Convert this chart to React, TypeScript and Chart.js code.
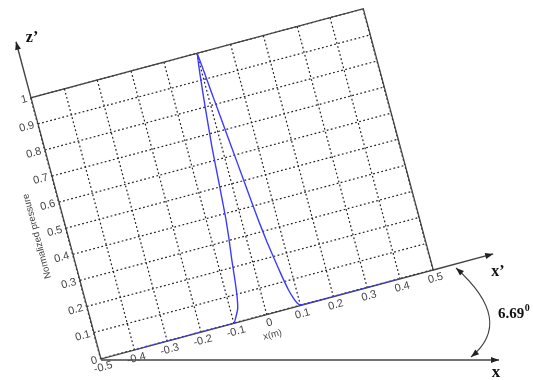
import React, { useEffect, useRef } from "react";
import { Chart, registerables } from "chart.js";

Chart.register(...registerables);

// ---- data ----
const xPositions = [
  -0.4, -0.3, -0.2, -0.1, -0.09, -0.078, -0.07, -0.064, -0.058, -0.05, -0.044, -0.036, -0.029, -0.018, -0.008,
  0, 0.012, 0.024, 0.036, 0.046, 0.054, 0.062, 0.07, 0.078, 0.086, 0.093, 0.1, 0.2, 0.3, 0.4,
];
const normalizedPressure = [
  0, 0, 0, 0, 0.02, 0.05, 0.1, 0.16, 0.23, 0.31, 0.38, 0.52, 0.65, 0.8, 0.92,
  1, 0.83, 0.66, 0.49, 0.35, 0.26, 0.19, 0.125, 0.07, 0.033, 0.012, 0.002, 0, 0, 0,
];
const xTickValues = [-0.5, -0.4, -0.3, -0.2, -0.1, 0, 0.1, 0.2, 0.3, 0.4, 0.5];
const xTickLabels = ["-0.5", "-0.4", "-0.3", "-0.2", "-0.1", "0", "0.1", "0.2", "0.3", "0.4", "0.5"];
const yTickValues = [0, 0.1, 0.2, 0.3, 0.4, 0.5, 0.6, 0.7, 0.8, 0.9, 1];
const yTickLabels = ["0", "0.1", "0.2", "0.3", "0.4", "0.5", "0.6", "0.7", "0.8", "0.9", "1"];
const xAxisTitle = "x(m)";
const yAxisTitle = "Normalized pressure";
const angleLabel = "6.69";
const angleSup = "0";

// ---- layout constants ----
const TILT_DEG = 15;
const ORIGIN = { x: 101, y: 359 };
const ANG = (TILT_DEG * Math.PI) / 180;

function toPage(chart: any, px: number, py: number) {
  const a = chart.chartArea;
  const dx = px - a.left;
  const dy = py - a.bottom;
  return {
    x: ORIGIN.x + dx * Math.cos(ANG) + dy * Math.sin(ANG),
    y: ORIGIN.y - dx * Math.sin(ANG) + dy * Math.cos(ANG),
  };
}

function arrowHead(ctx: CanvasRenderingContext2D, tip: { x: number; y: number }, dirX: number, dirY: number, len = 8, half = 3) {
  const l = Math.hypot(dirX, dirY);
  const ux = dirX / l;
  const uy = dirY / l;
  ctx.beginPath();
  ctx.moveTo(tip.x, tip.y);
  ctx.lineTo(tip.x - ux * len - uy * half, tip.y - uy * len + ux * half);
  ctx.lineTo(tip.x - ux * len + uy * half, tip.y - uy * len - ux * half);
  ctx.closePath();
  ctx.fill();
}

const tiltPlugin = {
  id: "tilt",
  beforeDraw(chart: any) {
    const ctx = chart.ctx;
    const a = chart.chartArea;
    ctx.save();
    ctx.translate(ORIGIN.x, ORIGIN.y);
    ctx.rotate(-ANG);
    ctx.translate(-a.left, -a.bottom);
  },
  beforeDatasetsDraw(chart: any) {
    const ctx = chart.ctx;
    const { left, top, right, bottom } = chart.chartArea;
    ctx.save();
    ctx.setLineDash([]);
    ctx.strokeStyle = "#444";
    ctx.lineWidth = 1.3;
    ctx.strokeRect(left, top, right - left, bottom - top);
    ctx.restore();
  },
  afterDraw(chart: any) {
    const ctx = chart.ctx;
    ctx.restore();
    const xs = chart.scales.x;
    const ys = chart.scales.y;
    const o = toPage(chart, xs.getPixelForValue(-0.5), ys.getPixelForValue(0));
    const xe = toPage(chart, xs.getPixelForValue(0.5), ys.getPixelForValue(0));
    const yt = toPage(chart, xs.getPixelForValue(-0.5), ys.getPixelForValue(1));
    const ux = { x: xe.x - o.x, y: xe.y - o.y };
    const ul = Math.hypot(ux.x, ux.y);
    ux.x /= ul; ux.y /= ul;
    const uy = { x: yt.x - o.x, y: yt.y - o.y };
    const yl = Math.hypot(uy.x, uy.y);
    uy.x /= yl; uy.y /= yl;

    ctx.save();
    ctx.strokeStyle = "#444";
    ctx.fillStyle = "#222";
    ctx.lineWidth = 1.4;
    ctx.setLineDash([]);

    // x' extension
    const xTip = { x: xe.x + ux.x * 62, y: xe.y + ux.y * 62 };
    ctx.beginPath();
    ctx.moveTo(xe.x, xe.y);
    ctx.lineTo(xTip.x, xTip.y);
    ctx.stroke();
    arrowHead(ctx, xTip, ux.x, ux.y);

    // z' extension
    const zTip = { x: yt.x + uy.x * 58, y: yt.y + uy.y * 58 };
    ctx.beginPath();
    ctx.moveTo(yt.x, yt.y);
    ctx.lineTo(zTip.x, zTip.y);
    ctx.stroke();
    arrowHead(ctx, zTip, uy.x, uy.y);

    // horizontal x axis
    const hTip = { x: o.x + 398, y: o.y + 1 };
    ctx.beginPath();
    ctx.moveTo(o.x, o.y + 1);
    ctx.lineTo(hTip.x, hTip.y);
    ctx.stroke();
    arrowHead(ctx, hTip, 1, 0);

    // angle arc
    const p0 = { x: o.x + 355, y: o.y - 91 };
    const p2 = { x: o.x + 370, y: o.y - 2 };
    const c = { x: o.x + 414, y: o.y - 38 };
    ctx.lineWidth = 1.1;
    ctx.beginPath();
    ctx.moveTo(p0.x, p0.y);
    ctx.quadraticCurveTo(c.x, c.y, p2.x, p2.y);
    ctx.stroke();
    arrowHead(ctx, p0, p0.x - c.x, p0.y - c.y, 8, 3);
    arrowHead(ctx, p2, p2.x - c.x, p2.y - c.y, 8, 3);

    // labels
    ctx.fillStyle = "#111";
    ctx.font = "bold 17px 'Liberation Serif', serif";
    ctx.textAlign = "center";
    ctx.textBaseline = "middle";
    ctx.fillText("x", o.x + 395, o.y + 14);
    ctx.font = "bold 16px 'Liberation Serif', serif";
    ctx.fillText("x\u2019", o.x + 397, o.y - 87);
    ctx.fillText("z\u2019", o.x - 69, o.y - 321);
    ctx.textAlign = "left";
    ctx.textBaseline = "alphabetic";
    ctx.font = "bold 15px 'Liberation Serif', serif";
    ctx.fillText(angleLabel, o.x + 397, o.y - 41);
    const w = ctx.measureText(angleLabel).width;
    ctx.font = "bold 10px 'Liberation Serif', serif";
    ctx.fillText(angleSup, o.x + 397 + w + 0.5, o.y - 48);
    ctx.restore();
  },
};

export default function App() {
  const ref = useRef<HTMLCanvasElement | null>(null);
  useEffect(() => {
    if (!ref.current) return;
    const tickFont = { family: "'Liberation Sans', Arial, sans-serif", size: 11 };
    const titleFont = { family: "'Liberation Sans', Arial, sans-serif", size: 9.5 };
    const chart = new Chart(ref.current, {
      type: "scatter",
      data: {
        datasets: [
          {
            data: xPositions.map((x, i) => ({ x, y: normalizedPressure[i] })),
            showLine: true,
            borderColor: "rgb(60,60,255)",
            borderWidth: 1.4,
            pointRadius: 0,
            tension: 0.1,
            fill: false,
          },
        ],
      },
      options: {
        animation: false,
        responsive: false,
        events: [],
        layout: { padding: { left: 10, right: 139, top: 10, bottom: 69 } },
        plugins: { legend: { display: false }, tooltip: { enabled: false } },
        scales: {
          x: {
            type: "linear",
            min: -0.5,
            max: 0.5,
            afterFit: (s: any) => { s.height = 30; },
            afterBuildTicks: (s: any) => { s.ticks = xTickValues.map((v) => ({ value: v })); },
            ticks: {
              autoSkip: false,
              maxRotation: 0,
              minRotation: 0,
              padding: 2,
              color: "#444",
              font: tickFont,
              callback: (_v: any, i: number) => xTickLabels[i],
            },
            grid: { color: "#222", lineWidth: 1.2, drawTicks: false },
            border: { display: false, dash: [1.8, 2.4] },
            title: { display: true, text: xAxisTitle, color: "#444", font: titleFont, padding: { top: 0, bottom: 3.3 } },
          },
          y: {
            type: "linear",
            min: 0,
            max: 1,
            afterFit: (s: any) => { s.width = 40; },
            afterBuildTicks: (s: any) => { s.ticks = yTickValues.map((v) => ({ value: v })); },
            ticks: {
              autoSkip: false,
              padding: 4,
              color: "#444",
              font: tickFont,
              callback: (_v: any, i: number) => yTickLabels[i],
            },
            grid: { color: "#222", lineWidth: 1.2, drawTicks: false },
            border: { display: false, dash: [1.8, 2.4] },
            title: { display: true, text: yAxisTitle, color: "#444", font: titleFont, padding: { top: 4.3, bottom: 0 } },
          },
        },
      },
      plugins: [tiltPlugin],
    } as any);
    return () => chart.destroy();
  }, []);
  return (
    <div style={{ position: "fixed", left: 0, top: 0, width: 533, height: 380, background: "#fff" }}>
      <canvas ref={ref} width={533} height={380} style={{ display: "block" }} />
    </div>
  );
}
